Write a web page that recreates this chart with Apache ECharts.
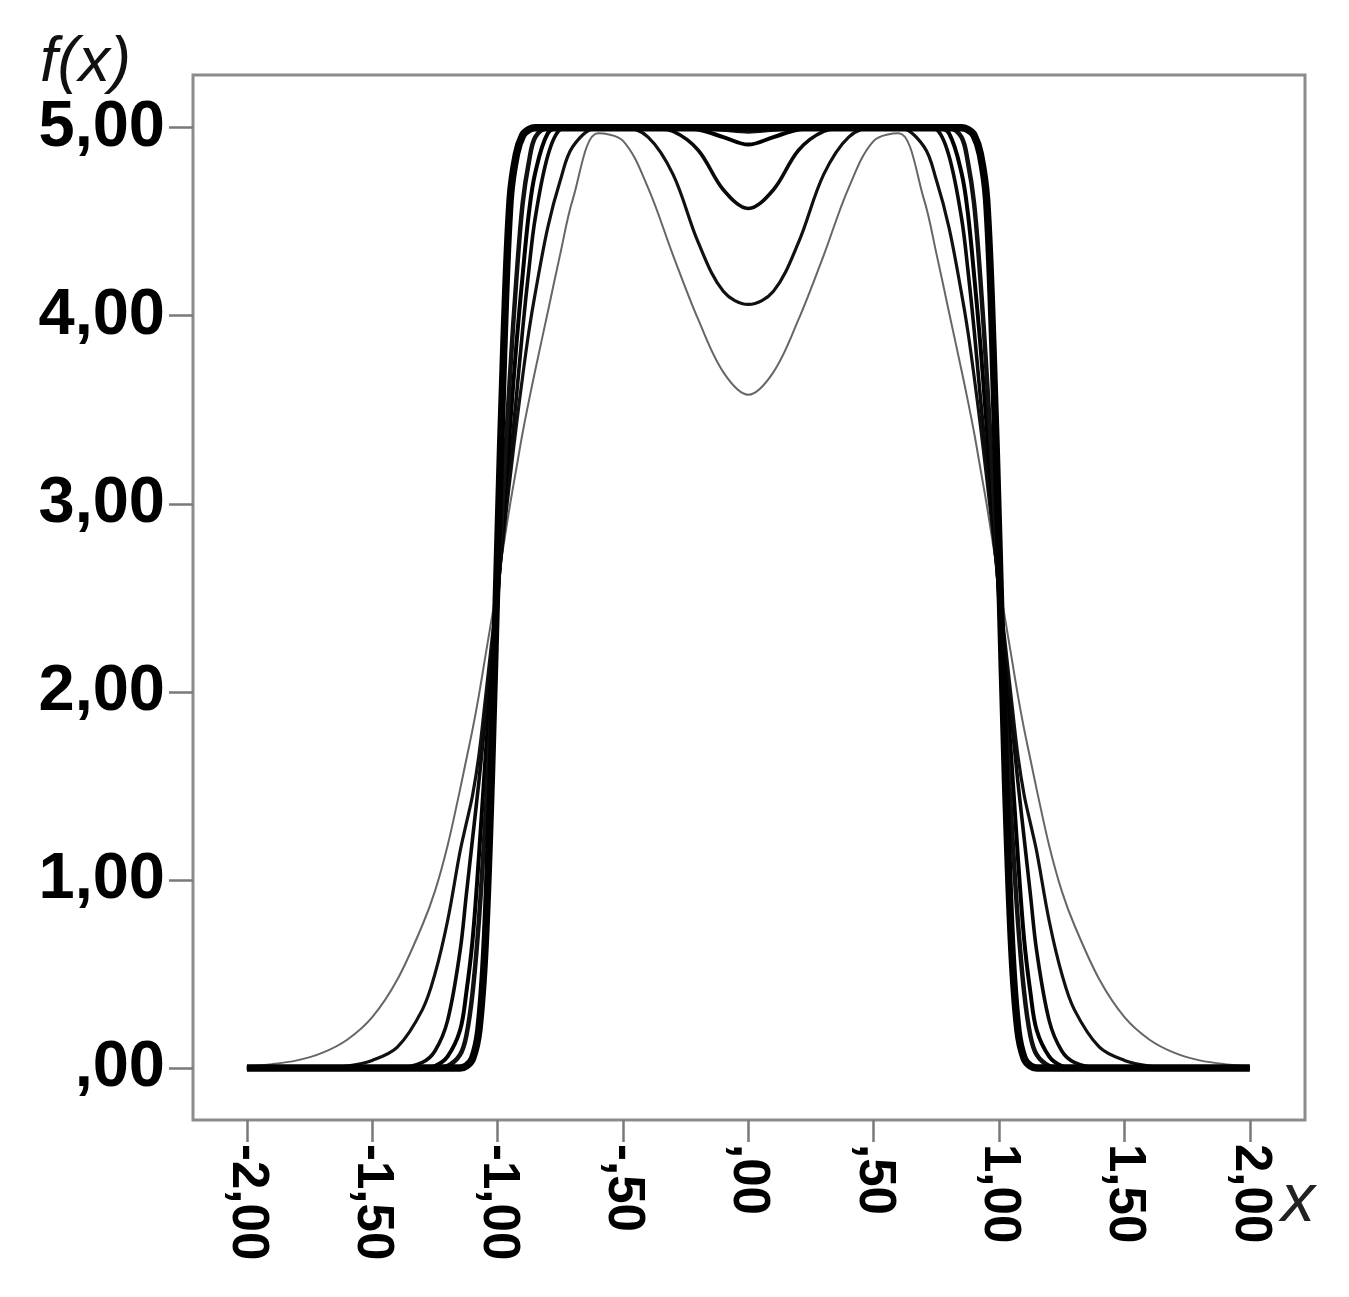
<!DOCTYPE html>
<html>
<head>
<meta charset="utf-8">
<script src="https://cdn.jsdelivr.net/npm/echarts@6/dist/echarts.min.js"></script>
<style>
  html, body { margin: 0; padding: 0; background: #fff; }
  #chart { width: 1349px; height: 1297px; }
</style>
</head>
<body>
<div id="chart"></div>
<script>
// x positions shared by all curves
var xs = [-2.0, -1.9, -1.8, -1.7, -1.6, -1.5, -1.4, -1.3, -1.25, -1.2, -1.15, -1.125, -1.1, -1.075, -1.05, -1.025,
  -1.0, -0.975, -0.95, -0.925, -0.9, -0.875, -0.85, -0.8, -0.75, -0.7, -0.6, -0.5, -0.4, -0.3, -0.2, -0.1,
  0,
  0.1, 0.2, 0.3, 0.4, 0.5, 0.6, 0.7, 0.75, 0.8, 0.85, 0.875, 0.9, 0.925, 0.95, 0.975, 1.0,
  1.025, 1.05, 1.075, 1.1, 1.125, 1.15, 1.2, 1.25, 1.3, 1.4, 1.5, 1.6, 1.7, 1.8, 1.9, 2.0];

// curves, from the widest (thin line) to the sharpest (thick line)
var curveA = [0.01, 0.02, 0.04, 0.08, 0.15, 0.27, 0.47, 0.76, 0.94, 1.18, 1.48, 1.64, 1.80, 1.98, 2.18, 2.38,
  2.58, 2.79, 3.00, 3.19, 3.38, 3.55, 3.71, 4.02, 4.33, 4.62, 4.97, 4.93, 4.68, 4.32, 3.98, 3.70,
  3.58,
  3.70, 3.98, 4.32, 4.68, 4.93, 4.97, 4.62, 4.33, 4.02, 3.71, 3.55, 3.38, 3.19, 3.00, 2.79, 2.58,
  2.38, 2.18, 1.98, 1.80, 1.64, 1.48, 1.18, 0.94, 0.76, 0.47, 0.27, 0.15, 0.08, 0.04, 0.02, 0.01];
var curveB = [0, 0, 0, 0, 0.01, 0.04, 0.11, 0.31, 0.50, 0.78, 1.15, 1.30, 1.45, 1.66, 1.95, 2.25,
  2.55, 2.85, 3.14, 3.42, 3.68, 3.92, 4.12, 4.47, 4.72, 4.90, 5.00, 5.00, 4.95, 4.75, 4.39, 4.13,
  4.06,
  4.13, 4.39, 4.75, 4.95, 5.00, 5.00, 4.90, 4.72, 4.47, 4.12, 3.92, 3.68, 3.42, 3.14, 2.85, 2.55,
  2.25, 1.95, 1.66, 1.45, 1.30, 1.15, 0.78, 0.50, 0.31, 0.11, 0.04, 0.01, 0, 0, 0, 0];
var curveC = [0, 0, 0, 0, 0, 0, 0, 0.03, 0.09, 0.25, 0.62, 0.92, 1.22, 1.52, 1.85, 2.18,
  2.53, 2.88, 3.22, 3.57, 3.93, 4.25, 4.52, 4.85, 4.99, 5.00, 5.00, 5.00, 5.00, 4.98, 4.88, 4.67,
  4.57,
  4.67, 4.88, 4.98, 5.00, 5.00, 5.00, 5.00, 4.99, 4.85, 4.52, 4.25, 3.93, 3.57, 3.22, 2.88, 2.53,
  2.18, 1.85, 1.52, 1.22, 0.92, 0.62, 0.25, 0.09, 0.03, 0, 0, 0, 0, 0, 0, 0];
var curveD = [0, 0, 0, 0, 0, 0, 0, 0, 0.01, 0.06, 0.20, 0.40, 0.68, 1.12, 1.62, 2.08,
  2.52, 2.97, 3.42, 3.85, 4.22, 4.55, 4.76, 4.97, 5.00, 5.00, 5.00, 5.00, 5.00, 5.00, 4.99, 4.95,
  4.91,
  4.95, 4.99, 5.00, 5.00, 5.00, 5.00, 5.00, 5.00, 4.97, 4.76, 4.55, 4.22, 3.85, 3.42, 2.97, 2.52,
  2.08, 1.62, 1.12, 0.68, 0.40, 0.20, 0.06, 0.01, 0, 0, 0, 0, 0, 0, 0, 0];
var curveE = [0, 0, 0, 0, 0, 0, 0, 0, 0, 0.01, 0.07, 0.17, 0.40, 0.78, 1.30, 1.90,
  2.51, 3.12, 3.70, 4.20, 4.60, 4.82, 4.95, 5.00, 5.00, 5.00, 5.00, 5.00, 5.00, 5.00, 5.00, 4.99,
  4.98,
  4.99, 5.00, 5.00, 5.00, 5.00, 5.00, 5.00, 5.00, 5.00, 4.95, 4.82, 4.60, 4.20, 3.70, 3.12, 2.51,
  1.90, 1.30, 0.78, 0.40, 0.17, 0.07, 0.01, 0, 0, 0, 0, 0, 0, 0, 0, 0];
var curveF = [0, 0, 0, 0, 0, 0, 0, 0, 0, 0, 0, 0.01, 0.05, 0.20, 0.65, 1.55,
  2.75, 3.85, 4.62, 4.86, 4.96, 4.99, 5.00, 5.00, 5.00, 5.00, 5.00, 5.00, 5.00, 5.00, 5.00, 5.00,
  5.00,
  5.00, 5.00, 5.00, 5.00, 5.00, 5.00, 5.00, 5.00, 5.00, 5.00, 4.99, 4.96, 4.86, 4.62, 3.85, 2.75,
  1.55, 0.65, 0.20, 0.05, 0.01, 0, 0, 0, 0, 0, 0, 0, 0, 0, 0, 0];

// ticks and their labels
var xTicks = [-2, -1.5, -1, -0.5, 0, 0.5, 1, 1.5, 2];
var xLabels = ['-2,00', '-1,50', '-1,00', '-,50', ',00', ',50', '1,00', '1,50', '2,00'];
var yTicks = [0, 1, 2, 3, 4, 5];
var yLabels = [',00', '1,00', '2,00', '3,00', '4,00', '5,00'];

function pairs(ys) {
  return xs.map(function (x, i) { return [x, ys[i]]; });
}
function labelOf(ticks, labels) {
  return function (v) {
    for (var i = 0; i < ticks.length; i++) {
      if (Math.abs(ticks[i] - v) < 1e-6) return labels[i];
    }
    return '';
  };
}

var curves = [
  {data: curveA, color: '#666', width: 2},
  {data: curveB, color: '#111', width: 3.2},
  {data: curveC, color: '#0a0a0a', width: 3.6},
  {data: curveD, color: '#000', width: 4},
  {data: curveE, color: '#111', width: 4.5},
  {data: curveF, color: '#000', width: 7.5}
];

var chart = echarts.init(document.getElementById('chart'));
chart.setOption({
  animation: false,
  backgroundColor: '#fff',
  grid: {
    left: 193, right: 44, top: 75, bottom: 177,
    show: true,
    borderColor: '#8c8c8c',
    borderWidth: 3,
    outerBoundsMode: 'none'
  },
  xAxis: {
    type: 'value',
    min: -2.215,
    max: 2.22,
    axisLine: {show: false, onZero: false},
    splitLine: {show: false},
    axisTick: {
      show: true,
      customValues: xTicks,
      length: 22,
      lineStyle: {color: '#7a7a7a', width: 2.5}
    },
    axisLabel: {
      customValues: xTicks,
      rotate: -90,
      margin: 24,
      formatter: labelOf(xTicks, xLabels),
      color: '#000',
      fontSize: 51,
      fontWeight: 'bold',
      fontFamily: 'Liberation Sans'
    }
  },
  yAxis: {
    type: 'value',
    min: -0.277,
    max: 5.28,
    axisLine: {show: false, onZero: false},
    splitLine: {show: false},
    axisTick: {
      show: true,
      customValues: yTicks,
      length: 24,
      lineStyle: {color: '#7a7a7a', width: 2.5}
    },
    axisLabel: {
      customValues: yTicks,
      margin: 28,
      formatter: labelOf(yTicks, yLabels),
      color: '#000',
      fontSize: 65,
      fontWeight: 'bold',
      fontFamily: 'Liberation Sans'
    }
  },
  graphic: [
    {
      type: 'text', left: 40, top: 32,
      style: {text: 'f(x)', fontSize: 63, fontStyle: 'italic', fontFamily: 'Liberation Sans', fill: '#111'}
    },
    {
      type: 'text', left: 1281, top: 1168,
      style: {text: 'x', fontSize: 68, fontStyle: 'italic', fontFamily: 'Liberation Sans', fill: '#222'}
    }
  ],
  series: curves.map(function (c) {
    return {
      type: 'line',
      data: pairs(c.data),
      smooth: 0.35,
      showSymbol: false,
      lineStyle: {color: c.color, width: c.width},
      silent: true
    };
  })
});
</script>
</body>
</html>
